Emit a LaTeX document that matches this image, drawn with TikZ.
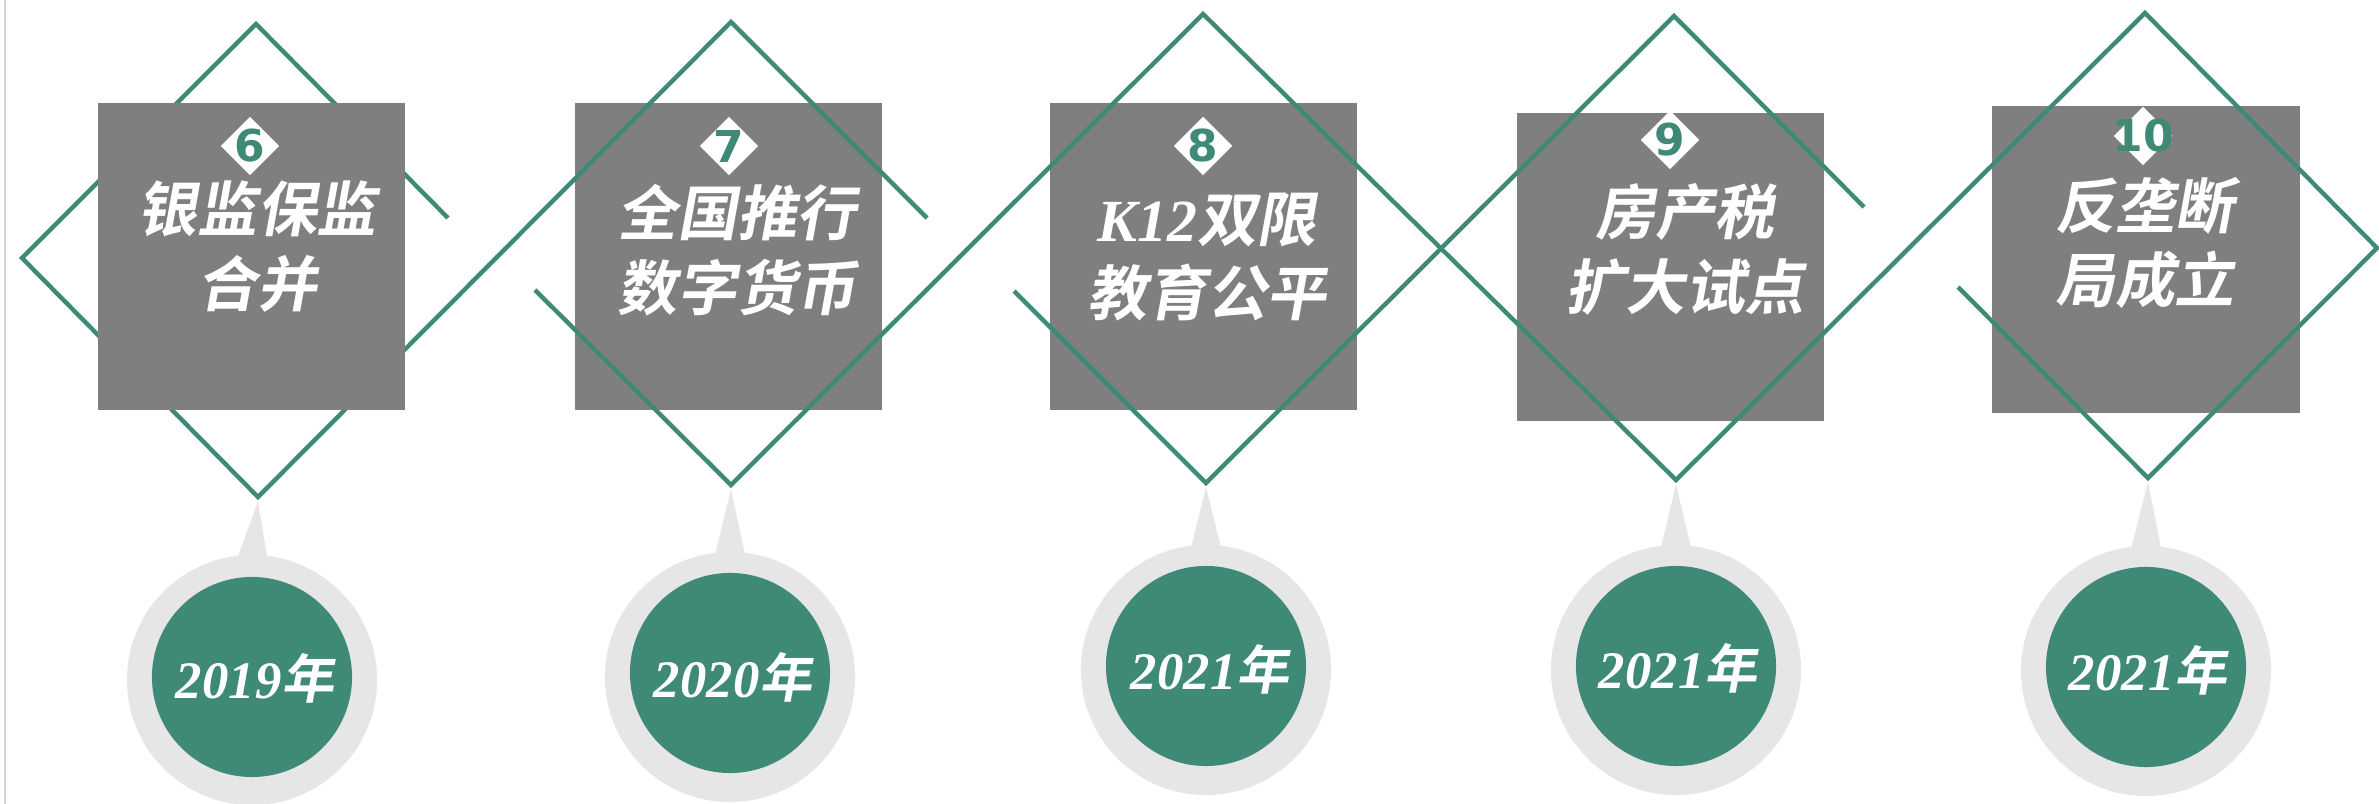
\documentclass[tikz,border=0pt]{standalone}
\usepackage{fontspec}
\usetikzlibrary{shapes.geometric,calc}

\newfontfamily\cjkbold{Noto Sans CJK SC Bold}[FakeSlant=0.18]
\newfontfamily\serifbi{Liberation Serif}
\newfontfamily\numfont{DejaVu Sans}

\definecolor{leaf}{RGB}{63,138,118}
\definecolor{boxgray}{RGB}{127,127,127}
\definecolor{ringgray}{RGB}{230,230,230}
\definecolor{rulegray}{RGB}{214,214,214}

\tikzstyle{zigline}=[draw=leaf, line width=1.25pt]
\tikzstyle{evbox}=[fill=boxgray, minimum size=3.07cm, inner sep=0pt]
\tikzstyle{numtag}=[diamond, fill=white, minimum size=0.59cm, inner sep=0pt]
\tikzstyle{numtxt}=[text=leaf, inner sep=0pt, font=\numfont\bfseries\fontsize{12.5pt}{12.5pt}\selectfont]
\tikzstyle{evtitle}=[text=white, align=center, inner sep=0pt, font=\cjkbold\fontsize{17pt}{21.3pt}\selectfont]
\tikzstyle{yearring}=[circle, fill=ringgray, minimum size=2.5cm, inner sep=0pt]
\tikzstyle{yeardot}=[circle, fill=leaf, minimum size=2cm, inner sep=0pt]
\tikzstyle{yeartxt}=[text=white, inner sep=0pt, font=\fontsize{15pt}{15pt}\selectfont]

\newcommand{\yr}[1]{{\serifbi\bfseries\itshape #1}{\cjkbold 年}}

\begin{document}
\begin{tikzpicture}[x=0.01cm,y=-0.01cm]
\useasboundingbox (0,0) rectangle (2379,804);
\draw[rulegray, line width=0.8pt] (5,0) -- (5,804);

\coordinate (T6) at (256,24);
\coordinate (L6) at (22,258);
\coordinate (B6) at (258,497);
\coordinate (E6) at (448,218);
\coordinate (T7) at (731,22);
\coordinate (B7) at (731,485);
\coordinate (S7) at (535,290);
\coordinate (E7) at (927,218);
\coordinate (T8) at (1203,14);
\coordinate (B8) at (1206,483);
\coordinate (S8) at (1014,291);
\coordinate (T9) at (1674,16);
\coordinate (B9) at (1676,480);
\coordinate (E9) at (1864,207);
\coordinate (T10) at (2145,13);
\coordinate (B10) at (2148,478);
\coordinate (R10) at (2377,248);
\coordinate (S10) at (1958,287);

\node[evbox] (box7) at (728.5,256.5) {};
\node[evbox] (box8) at (1203.5,256.5) {};
\node[evbox] (box9) at (1670.5,267) {};
\node[evbox] (box10) at (2146,259.5) {};

\draw[zigline] (E6) -- (T6) -- (L6) -- (B6) -- (T7) -- (E7);
\draw[zigline] (S7) -- (B7) -- (T8) -- (B9) -- (T10) -- (R10) -- (B10) -- (S10);
\draw[zigline] (S8) -- (B8) -- (T9) -- (E9);

\node[evbox] (box6) at (251.5,256.5) {};

\node[numtag] (n6) at (250,146) {};
\node[numtxt] at (n6) {6};
\node[numtag] (n7) at (729,146) {};
\node[numtxt] at (n7) {7};
\node[numtag] (n8) at (1203,146) {};
\node[numtxt] at (n8) {8};
\node[numtag] (n9) at (1670,140) {};
\node[numtxt] at (n9) {9};
\node[numtag] (n10) at (2143,136) {};
\node[numtxt] at (n10) {10};

\node[evtitle] (t6) at (257,247) {银监保监\\合并};
\node[evtitle] (t7) at (737,250) {全国推行\\数字货币};
\node[evtitle] (t8) at (1207,257) {{\serifbi\bfseries\itshape K12}双限\\教育公平};
\node[evtitle] (t9) at (1685,249) {房产税\\扩大试点};
\node[evtitle] (t10) at (2145,243) {反垄断\\局成立};

\node[yearring] (r6) at (252,680) {};
\node[yearring] (r7) at (730,677) {};
\node[yearring] (r8) at (1206,670) {};
\node[yearring] (r9) at (1676,670) {};
\node[yearring] (r10) at (2146,671) {};
\fill[ringgray] ($(r6)+(-16,-118)$) -- ($(B6)+(0,4)$) -- ($(r6)+(16,-118)$) -- cycle;
\fill[ringgray] ($(r7)+(-16,-118)$) -- ($(B7)+(0,4)$) -- ($(r7)+(16,-118)$) -- cycle;
\fill[ringgray] ($(r8)+(-16,-118)$) -- ($(B8)+(0,4)$) -- ($(r8)+(16,-118)$) -- cycle;
\fill[ringgray] ($(r9)+(-16,-118)$) -- ($(B9)+(0,4)$) -- ($(r9)+(16,-118)$) -- cycle;
\fill[ringgray] ($(r10)+(-16,-118)$) -- ($(B10)+(0,4)$) -- ($(r10)+(16,-118)$) -- cycle;

\node[yeardot] (d6) at ($(r6)+(0,-3)$) {};
\node[yeardot] (d7) at ($(r7)+(0,-4)$) {};
\node[yeardot] (d8) at ($(r8)+(0,-4)$) {};
\node[yeardot] (d9) at ($(r9)+(0,-4)$) {};
\node[yeardot] (d10) at ($(r10)+(0,-4)$) {};

\node[yeartxt] (y6) at (255,678) {\yr{2019}};
\node[yeartxt] (y7) at (733,677) {\yr{2020}};
\node[yeartxt] (y8) at (1210,669) {\yr{2021}};
\node[yeartxt] (y9) at (1678,668) {\yr{2021}};
\node[yeartxt] (y10) at (2148,670) {\yr{2021}};
\end{tikzpicture}
\end{document}
